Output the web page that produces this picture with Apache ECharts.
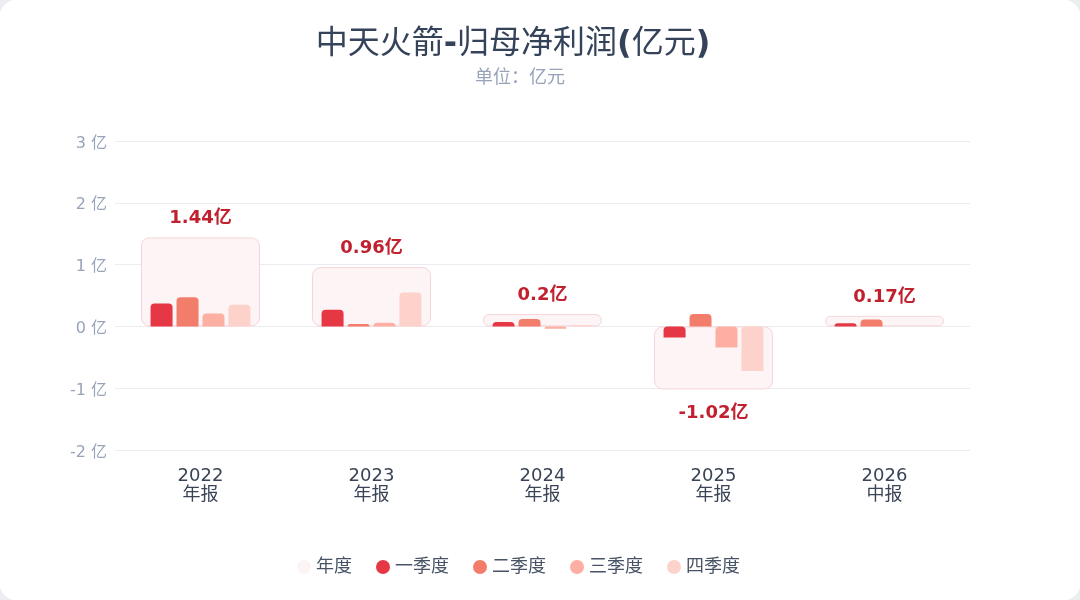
<!DOCTYPE html>
<html>
<head>
<meta charset="utf-8">
<script src="https://cdn.jsdelivr.net/npm/echarts@6/dist/echarts.min.js"></script>
<style>
  html, body { margin: 0; padding: 0; background: #eceef1; }
  #main { width: 1080px; height: 600px; background: #fff; border-radius: 16px; overflow: hidden; }
</style>
</head>
<body>
<div id="main"></div>
<script>
var categories = ['2022\n年报', '2023\n年报', '2024\n年报', '2025\n年报', '2026\n中报'];
var annual = [1.44, 0.96, 0.2, -1.02, 0.17];
var q1 = [0.37, 0.27, 0.07, -0.18, 0.05];
var q2 = [0.47, 0.04, 0.12, 0.2, 0.11];
var q3 = [0.21, 0.06, -0.04, -0.34, null];
var q4 = [0.35, 0.55, 0.02, -0.72, null];
var yTicks = [-2, -1, 0, 1, 2, 3];

var font = '"DejaVu Sans", "Noto Sans CJK SC", sans-serif';

function quarter(name, data, color) {
    return {
        name: name,
        type: 'bar',
        xAxisIndex: 0,
        data: data,
        barWidth: 22,
        barGap: '18%',
        itemStyle: { color: color, borderRadius: [4, 4, 0, 0] },
        z: 3
    };
}

var option = {
    backgroundColor: '#fff',
    textStyle: { fontFamily: font },
    title: [{
        // latin punctuation shows bold in the original, CJK stays regular
        text: '中天火箭{b|-}归母净利润{b|(}亿元{b|)}',
        left: 508,
        textAlign: 'center',
        top: 24,
        textStyle: {
            fontSize: 32, fontWeight: 'normal', color: '#35435a', fontFamily: font,
            rich: { b: { fontSize: 32, fontWeight: 'bold', color: '#35435a', fontFamily: font } }
        }
    }, {
        text: '单位：亿元',
        left: 515,
        textAlign: 'center',
        top: 64,
        textStyle: { fontSize: 18, fontWeight: 'normal', color: '#98a3b8', fontFamily: font }
    }],
    legend: {
        left: 292,
        bottom: 19,
        icon: 'circle',
        itemWidth: 14,
        itemHeight: 14,
        itemGap: 24,
        textStyle: { fontSize: 18, color: '#485366', fontFamily: font },
        data: [
            { name: '年度', itemStyle: { borderWidth: 0 } },
            '一季度', '二季度', '三季度', '四季度'
        ]
    },
    grid: { left: 115, right: 110, top: 141, bottom: 150 },
    xAxis: [{
        type: 'category',
        data: categories,
        axisLine: { show: false },
        axisTick: { show: false },
        axisLabel: { fontSize: 18, color: '#3a4456', lineHeight: 19, margin: 17 }
    }, {
        type: 'category',
        data: categories,
        show: false
    }],
    yAxis: {
        type: 'value',
        min: yTicks[0],
        max: yTicks[yTicks.length - 1],
        interval: 1,
        axisLine: { show: false },
        axisTick: { show: false },
        axisLabel: {
            fontSize: 16, color: '#98a3ba', margin: 8,
            formatter: '{p|{value} 亿}',
            rich: { p: { fontSize: 16, color: '#98a3ba', padding: [5, 0, 0, 0] } }
        },
        splitLine: { lineStyle: { color: '#ececf0' } }
    },
    series: [{
        name: '年度',
        type: 'bar',
        xAxisIndex: 1,
        data: annual.map(function (v) {
            // negative annual value: label goes under the bar
            return v < 0 ? { value: v, label: { position: 'bottom', distance: 15 } } : v;
        }),
        barWidth: 119,
        itemStyle: { color: '#fcf4f5', borderColor: '#f6d5da', borderWidth: 1, borderRadius: 8 },
        label: {
            show: true,
            position: 'top',
            distance: 10,
            fontSize: 18,
            fontWeight: 'bold',
            color: '#c1202e',
            formatter: function (p) { return p.value + '亿'; }
        },
        z: 2
    },
        quarter('一季度', q1, '#e63744'),
        quarter('二季度', q2, '#f27d6b'),
        quarter('三季度', q3, '#fcafa2'),
        quarter('四季度', q4, '#fdd2cb')
    ]
};

var myChart = echarts.init(document.getElementById('main'));
myChart.setOption(option);
</script>
</body>
</html>
